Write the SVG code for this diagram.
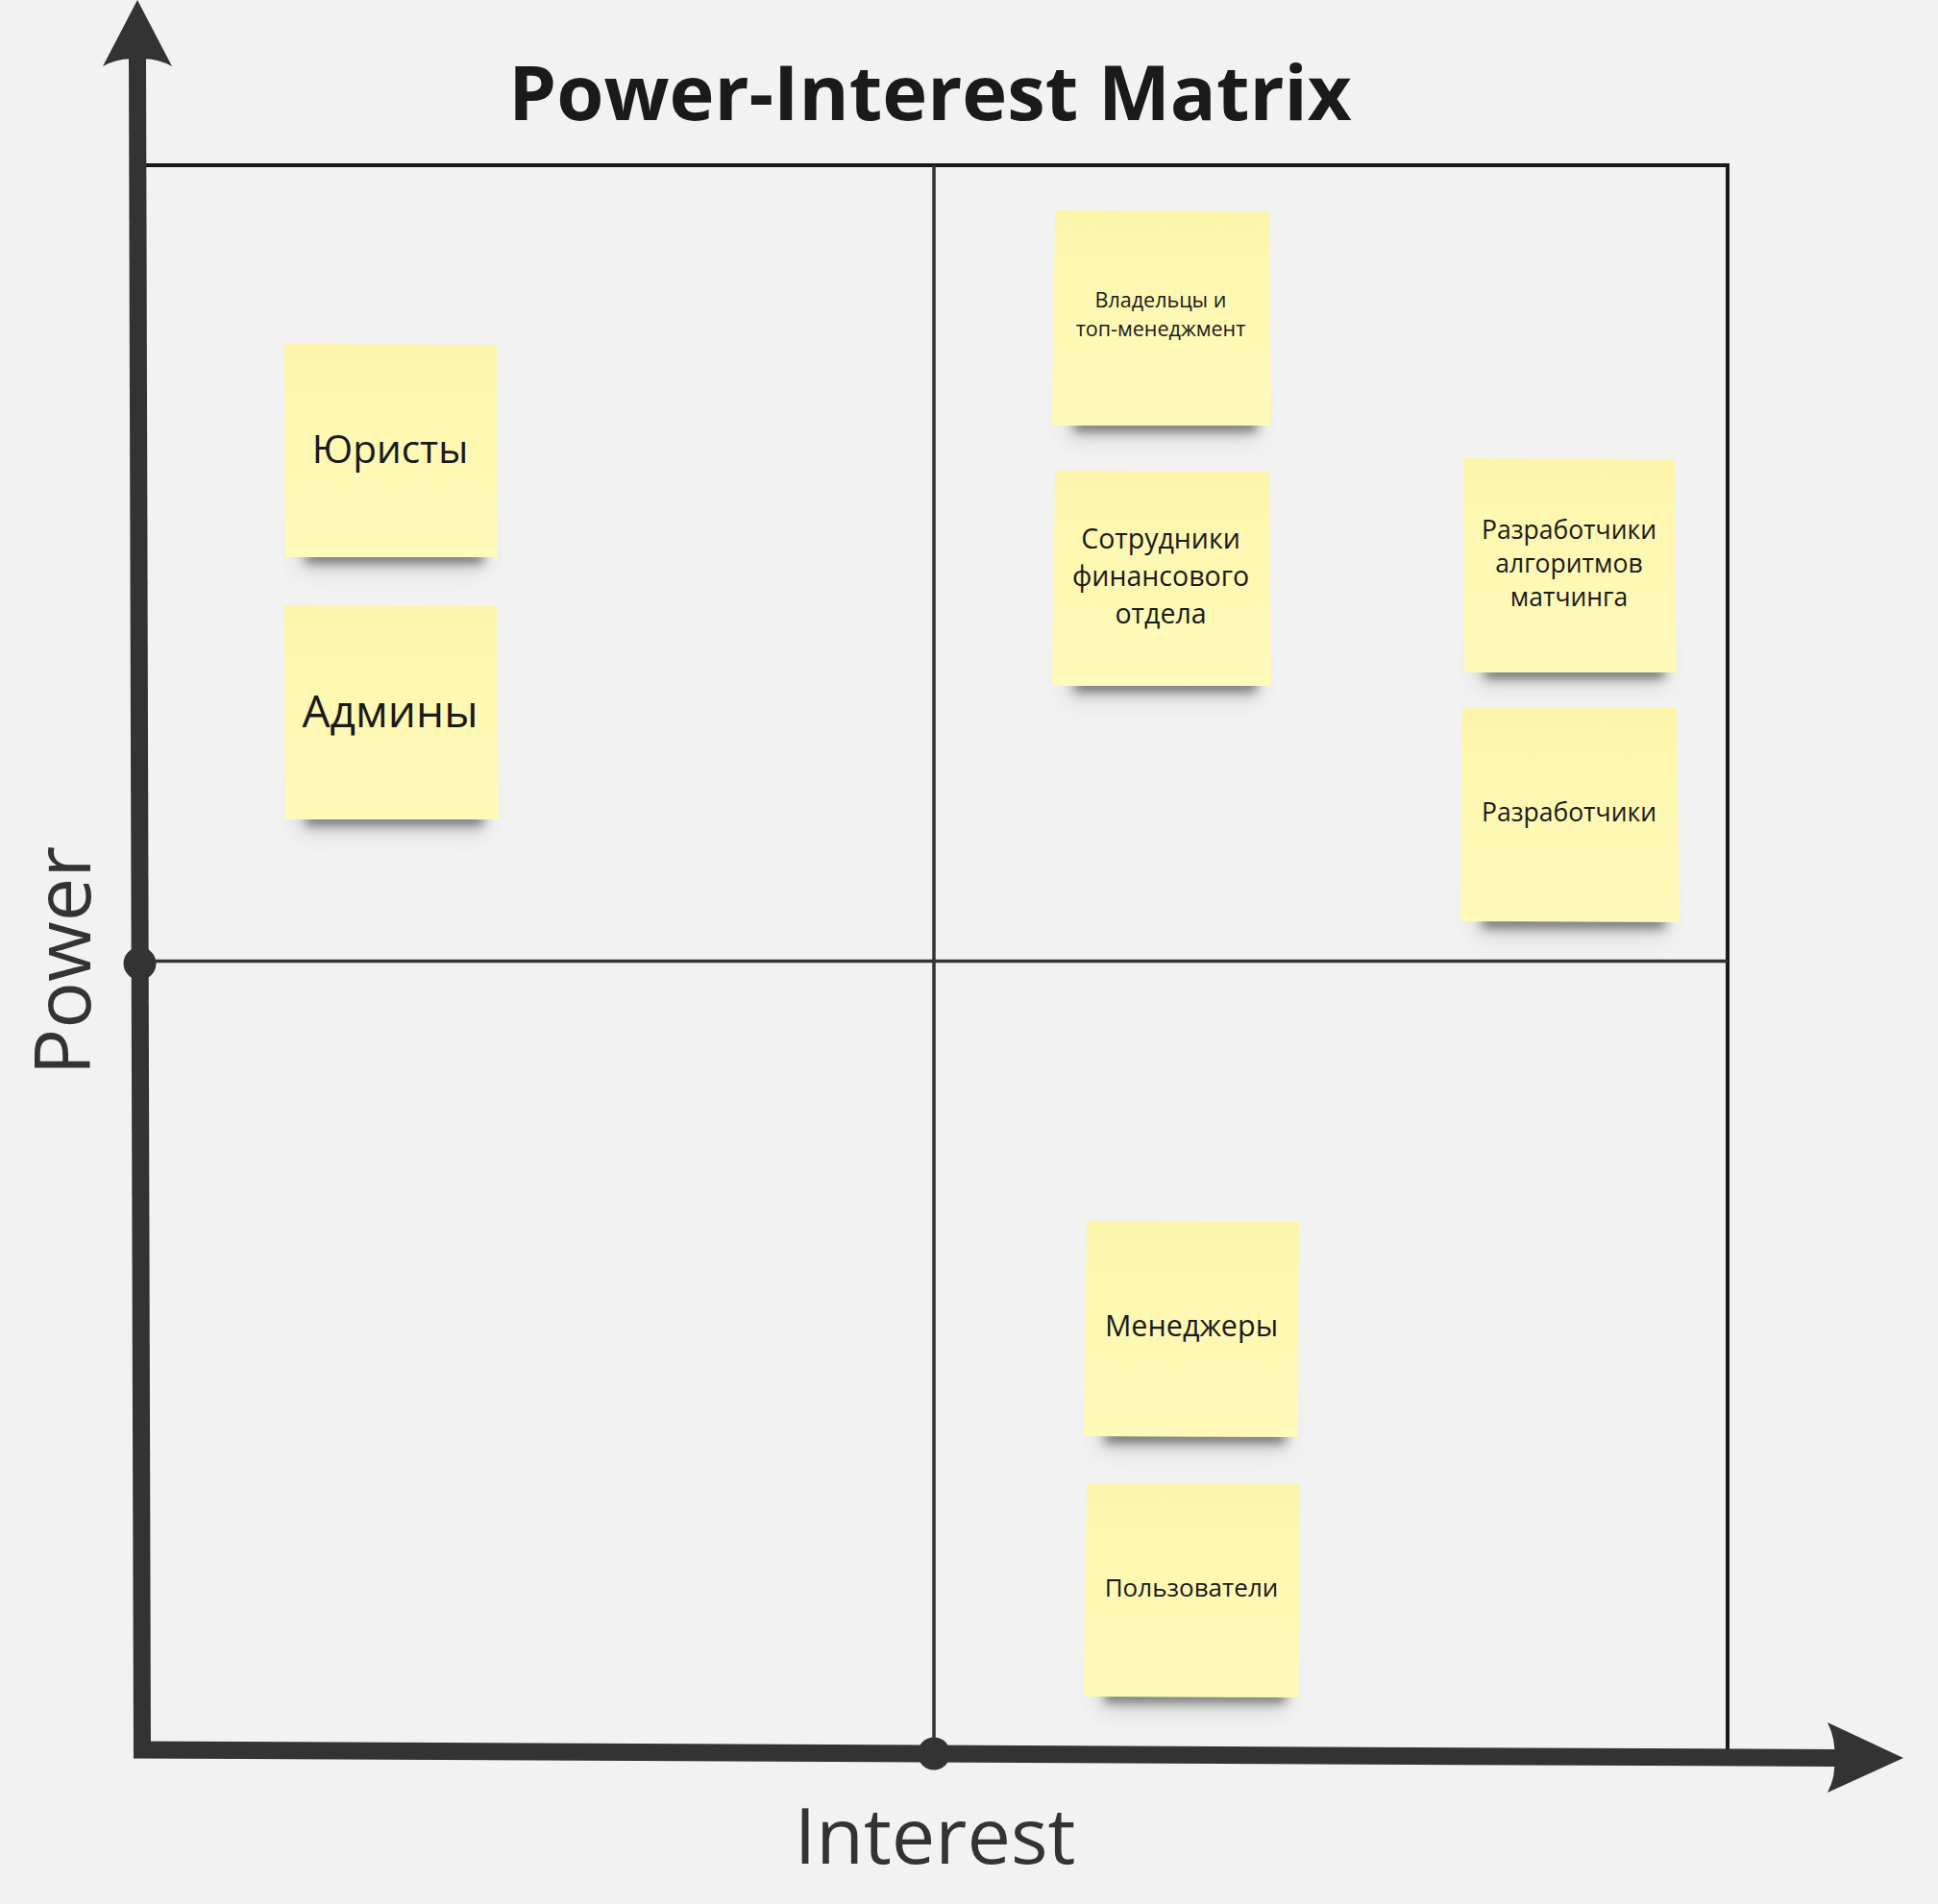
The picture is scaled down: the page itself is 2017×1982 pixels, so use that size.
<svg xmlns="http://www.w3.org/2000/svg" width="2017" height="1982" viewBox="0 0 2017 1982">
<style>
  .bg { fill: #f2f2f2; }
  .frame { stroke: #1a1a1a; stroke-width: 4; fill: none; }
  .mid { stroke: #333333; stroke-width: 3.5; fill: none; }
  .axis { stroke: #333333; stroke-width: 18; fill: none; }
  .head { fill: #333333; }
  .dot { fill: #333333; }
  .title { font-family: "Open Sans", "Noto Sans", sans-serif; font-weight: 700; font-size: 79.5px; fill: #1a1a1a; }
  .axlabel { font-family: "Open Sans", "Noto Sans", sans-serif; font-weight: 400; font-size: 81px; fill: #333333; }
  .paper { fill: url(#paperGrad); }
  .shadow { fill: #000000; opacity: 0.5; filter: url(#blurS); }
  .shadow2 { fill: #000000; opacity: 0.10; filter: url(#blurL); }
  .nt { font-family: "Open Sans", "Noto Sans", sans-serif; font-weight: 400; fill: #1a1a1a; text-anchor: middle; }
</style>
<defs>
  <linearGradient id="paperGrad" x1="0" y1="0" x2="0" y2="1">
    <stop offset="0" stop-color="#fcf4aa"/>
    <stop offset="0.25" stop-color="#fdf7b0"/>
    <stop offset="1" stop-color="#fffaba"/>
  </linearGradient>
  <filter id="blurS" x="-20%" y="-100%" width="140%" height="300%">
    <feGaussianBlur stdDeviation="6"/>
  </filter>
  <filter id="blurL" x="-20%" y="-50%" width="140%" height="200%">
    <feGaussianBlur stdDeviation="12"/>
  </filter>
</defs>

<rect class="bg" x="0" y="0" width="2017" height="1982"/>

<g id="connectors">
  <line class="frame" x1="150" y1="172" x2="1800" y2="172"/>
  <line class="frame" x1="1798" y1="170" x2="1798" y2="1830"/>
  <line class="mid" x1="972" y1="172" x2="972" y2="1826"/>
  <line class="mid" x1="145" y1="1000.5" x2="1798" y2="1000.5"/>
  <line class="axis" x1="143" y1="60" x2="148" y2="1830"/>
  <path class="head" d="M143,0 L179,69 Q160,59 143,62 Q126,59 107,69 Z"/>
  <line class="axis" x1="139" y1="1821.5" x2="1912" y2="1830"/>
  <path class="head" d="M1981,1830 L1902,1793 Q1911,1811 1909,1830 Q1911,1849 1902,1866 Z"/>
  <circle class="dot" cx="145.5" cy="1003" r="17"/>
  <circle class="dot" cx="972" cy="1825.5" r="17"/>
</g>

<g id="title">
  <text class="title" x="968" y="125" text-anchor="middle">Power-Interest Matrix</text>
</g>
<g id="label-power">
  <text class="axlabel" transform="translate(94,1000) rotate(-90)" x="0" y="0" text-anchor="middle">Power</text>
</g>
<g id="label-interest">
  <text class="axlabel" x="973" y="1940" text-anchor="middle" font-size="79">Interest</text>
</g>

<g id="note-yuristy">
  <rect class="shadow2" x="310" y="540" width="195" height="55"/>
  <rect class="shadow" x="318" y="573" width="185" height="13"/>
  <polygon class="paper" points="296,358 517,359 518,580 297,580"/>
  <text class="nt" x="406" y="482" font-size="40.5">Юристы</text>
</g>

<g id="note-adminy">
  <rect class="shadow2" x="310" y="813" width="195" height="55"/>
  <rect class="shadow" x="318" y="846" width="185" height="13"/>
  <polygon class="paper" points="296,630 517,631 519,853 297,853"/>
  <text class="nt" x="406" y="757" font-size="46">Админы</text>
</g>

<g id="note-vladeltsy">
  <rect class="shadow2" x="1110" y="403" width="200" height="55"/>
  <rect class="shadow" x="1118" y="436" width="190" height="13"/>
  <polygon class="paper" points="1098,219 1321,220 1323,443 1095,443"/>
  <text class="nt" x="1208" y="320" font-size="21.5">Владельцы и</text>
  <text class="nt" x="1208" y="350" font-size="21.5">топ-менеджмент</text>
</g>

<g id="note-sotrudniki">
  <rect class="shadow2" x="1110" y="674" width="200" height="55"/>
  <rect class="shadow" x="1118" y="707" width="190" height="13"/>
  <polygon class="paper" points="1098,490 1321,491 1323,714 1095,714"/>
  <text class="nt" x="1208" y="571" font-size="28.5">Сотрудники</text>
  <text class="nt" x="1208" y="610" font-size="28.5">финансового</text>
  <text class="nt" x="1208" y="649" font-size="28.5">отдела</text>
</g>

<g id="note-razrab-algo">
  <rect class="shadow2" x="1537" y="660" width="197" height="55"/>
  <rect class="shadow" x="1545" y="693" width="187" height="13"/>
  <polygon class="paper" points="1523,477 1743,478 1745,700 1524,700"/>
  <text class="nt" x="1633" y="561" font-size="26.5">Разработчики</text>
  <text class="nt" x="1633" y="596" font-size="26.5">алгоритмов</text>
  <text class="nt" x="1633" y="631" font-size="26.5">матчинга</text>
</g>

<g id="note-razrab">
  <rect class="shadow2" x="1535" y="920" width="200" height="55"/>
  <rect class="shadow" x="1543" y="953" width="190" height="13"/>
  <polygon class="paper" points="1522,736 1745,737 1748,960 1520,959"/>
  <text class="nt" x="1633" y="855" font-size="26.5">Разработчики</text>
</g>

<g id="note-menedzhery">
  <rect class="shadow2" x="1143" y="1456" width="197" height="55"/>
  <rect class="shadow" x="1150" y="1489" width="188" height="13"/>
  <polygon class="paper" points="1131,1271 1352,1272 1351,1496 1128,1495"/>
  <text class="nt" x="1240" y="1391" font-size="30.5">Менеджеры</text>
</g>

<g id="note-polzovateli">
  <rect class="shadow2" x="1143" y="1727" width="197" height="55"/>
  <rect class="shadow" x="1150" y="1759" width="188" height="13"/>
  <polygon class="paper" points="1131,1544 1353,1545 1352,1767 1128,1766"/>
  <text class="nt" x="1240" y="1662" font-size="26">Пользователи</text>
</g>
</svg>
